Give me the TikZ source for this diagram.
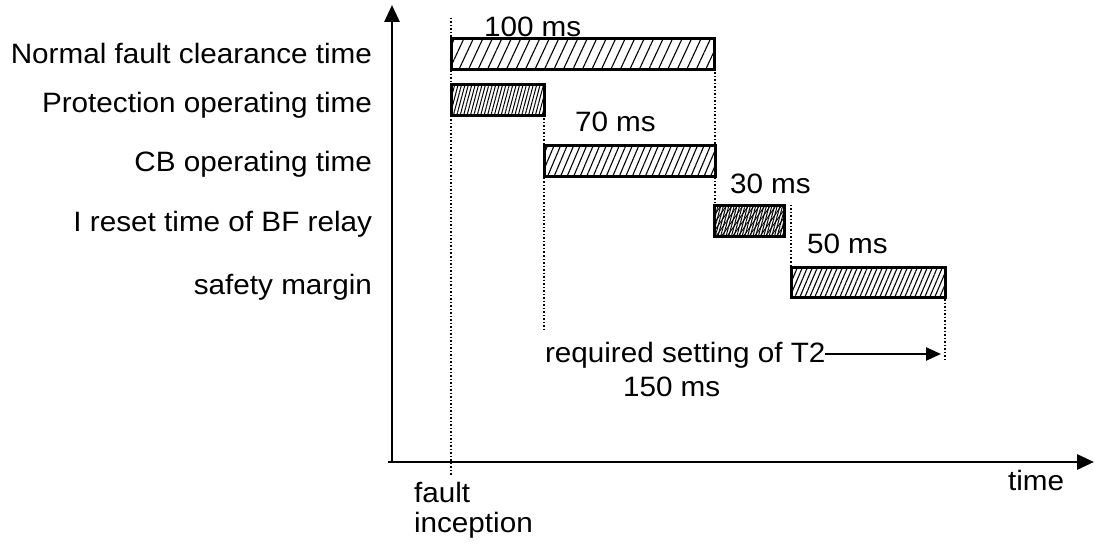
\documentclass[tikz,border=0pt]{standalone}
\usepackage{fontspec}
\setmainfont{Liberation Sans}[FakeStretch=1.06]
\usetikzlibrary{patterns.meta,arrows.meta}
\begin{document}
\begin{tikzpicture}[x=1pt,y=-1pt,
  txt/.style={font=\fontsize{28}{32}\selectfont, inner sep=0pt, outer sep=0pt},
  bar/.style={draw, line width=2.6pt, inner sep=0pt, anchor=north west, minimum height=31pt, preaction={fill=white}},
  hatchA/.style={pattern={Lines[angle=65,distance=8.6pt,line width=1.1pt]}},
  hatchB/.style={pattern={Lines[angle=75,distance=3.3pt,line width=1pt]}},
  hatchC/.style={pattern={Lines[angle=67,distance=6pt,line width=1.1pt]}},
  hatchD/.style={pattern={Lines[angle=75,distance=2.6pt,line width=1pt]}, postaction={pattern={Lines[angle=55,distance=4.5pt,line width=0.9pt]}}},
  hatchE/.style={pattern={Lines[angle=67,distance=4.6pt,line width=1.1pt]}},
  dots/.style={line width=1.7pt, dash pattern=on 1.5pt off 2pt},
  axis/.style={line width=2.8pt, -{Triangle[length=17pt,width=15pt]}},
  arr/.style={line width=2.4pt, -{Triangle[length=15pt,width=13pt]}}
]
\useasboundingbox (0,0) rectangle (1094,545);

% axes
\coordinate (O) at (392,462);
\coordinate (Ox) at (388,462);
\coordinate (Xend) at (1094,462);
\coordinate (Yend) at (392,5);
\draw[axis] (Ox) -- (Xend);
\draw[axis] (O) -- (Yend);

% dotted guide lines
\coordinate (d1a) at (451,18);
\coordinate (d1b) at (451,475);
\coordinate (d2a) at (715,69);
\coordinate (d2b) at (715,240);
\coordinate (d3a) at (544,115);
\coordinate (d3b) at (544,330);
\coordinate (d4a) at (791,205);
\coordinate (d4b) at (791,267);
\coordinate (d5a) at (945,285);
\coordinate (d5b) at (945,362);
\draw[dots] (d1a) -- (d1b);
\draw[dots] (d2a) -- (d2b);
\draw[dots] (d3a) -- (d3b);
\draw[dots] (d4a) -- (d4b);
\draw[dots] (d5a) -- (d5b);

% bars
\node[bar, hatchA, minimum width=263pt] (b1) at (451,38) {};
\node[bar, hatchB, minimum width=93pt] (b2) at (451,84) {};
\node[bar, hatchC, minimum width=171pt] (b3) at (544,145) {};
\node[bar, hatchD, minimum width=70pt] (b4) at (714,205) {};
\node[bar, hatchE, minimum width=154pt, minimum height=30pt] (b5) at (791,267) {};

% row labels
\node[txt, anchor=base east] (l1) at (372,64) {Normal fault clearance time};
\node[txt, anchor=base east] (l2) at (372,113) {Protection operating time};
\node[txt, anchor=base east] (l3) at (372,172) {CB operating time};
\node[txt, anchor=base east] (l4) at (372,232) {I reset time of BF relay};
\node[txt, anchor=base east] (l5) at (372,294) {safety margin};

% values
\node[txt, anchor=base west] (v1) at (484,37) {100 ms};
\node[txt, anchor=base west] (v2) at (575,132) {70 ms};
\node[txt, anchor=base west] (v3) at (730,194) {30 ms};
\node[txt, anchor=base west] (v4) at (807,254) {50 ms};

% required setting
\node[txt, anchor=base west] (req) at (545,362) {required setting of T2};
\node[txt, anchor=base west] (req2) at (623,396) {150 ms};
\coordinate (t2) at (941,354);
\draw[arr] (req.base east |- t2) -- (t2);

% axis labels
\node[txt, anchor=base west] (f1) at (414,502) {fault};
\node[txt, anchor=base west] (f2) at (414,532) {inception};
\node[txt, anchor=base west] (tm) at (1008,490) {time};
\end{tikzpicture}
\end{document}
